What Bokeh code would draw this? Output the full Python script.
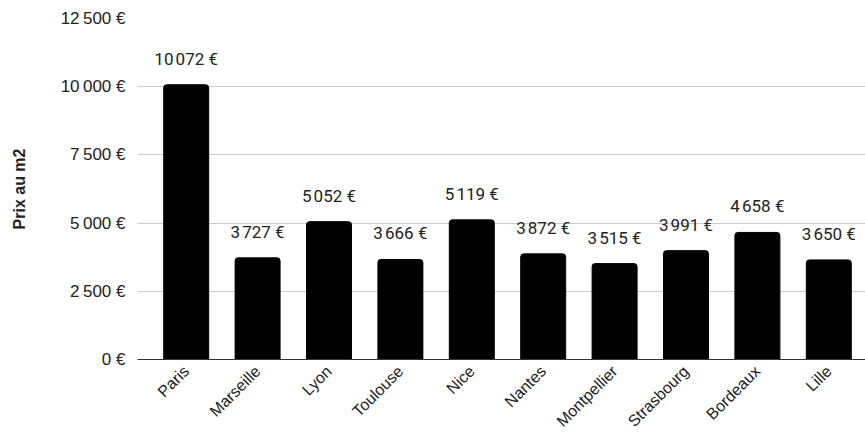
import math
from bokeh.plotting import figure
from bokeh.models import ColumnDataSource, Range1d, FixedTicker, LabelSet
from bokeh.core.properties import value
from bokeh.embed import file_html
from bokeh.resources import INLINE

cities = ["Paris", "Marseille", "Lyon", "Toulouse", "Nice", "Nantes",
          "Montpellier", "Strasbourg", "Bordeaux", "Lille"]
prices = [10072, 3727, 5052, 3666, 5119, 3872, 3515, 3991, 4658, 3650]
y_ticks = [0, 2500, 5000, 7500, 10000, 12500]
y_tick_labels = ["0\u00a0€", "2\u202f500\u00a0€", "5\u202f000\u00a0€",
                 "7\u202f500\u00a0€", "10\u202f000\u00a0€", "12\u202f500\u00a0€"]

def fmt(v):
    s = f"{v:,}".replace(",", "\u202f")
    return s + "\u00a0€"

xpos = list(range(len(cities)))
src = ColumnDataSource(dict(x=xpos, city=cities, price=prices,
                            label=[fmt(v) for v in prices]))

p = figure(x_range=Range1d(-0.682, len(cities) - 0.486),
           y_range=Range1d(0, 12500), width=865, height=443,
           output_backend="svg", toolbar_location=None,
           min_border_left=137, min_border_right=0, min_border_top=18,
           min_border_bottom=84)
p.outline_line_color = None
p.background_fill_color = "white"

p.vbar(x="x", top="price", width=0.63, source=src, color="black",
       border_radius=dict(top_left=3, top_right=3, bottom_right=0, bottom_left=0))

labels = LabelSet(x="x", y="price", text="label", source=src,
                  text_align="center", text_baseline="alphabetic", y_offset=20,
                  text_font=value("Roboto"), text_font_size=value("17px"),
                  text_color="#222222")
p.add_layout(labels)

p.yaxis.ticker = FixedTicker(ticks=y_ticks)
p.yaxis.major_label_overrides = dict(zip(y_ticks, y_tick_labels))
p.yaxis.axis_line_color = None
p.yaxis.major_tick_line_color = None
p.yaxis.minor_tick_line_color = None
p.yaxis.major_label_standoff = 6
p.yaxis.major_label_text_font = "Liberation Sans"
p.yaxis.major_label_text_font_size = "17px"
p.yaxis.major_label_text_color = "#222222"
p.yaxis.axis_label = "Prix au m2"
p.yaxis.axis_label_text_font = "Liberation Sans"
p.yaxis.axis_label_text_font_size = "16px"
p.yaxis.axis_label_text_font_style = "bold"
p.yaxis.axis_label_text_color = "#222222"
p.yaxis.axis_label_standoff = 30

p.xaxis.ticker = FixedTicker(ticks=xpos)
p.xaxis.major_label_overrides = dict(zip(xpos, cities))
p.xaxis.axis_line_color = "#333333"
p.xaxis.major_tick_line_color = None
p.xaxis.minor_tick_line_color = None
p.xaxis.major_label_orientation = math.pi / 4
p.xaxis.major_label_text_font = "Liberation Sans"
p.xaxis.major_label_text_font_size = "16px"
p.xaxis.major_label_text_color = "#222222"
p.xaxis.major_label_standoff = 3

p.xgrid.grid_line_color = None
p.ygrid.grid_line_color = "#cccccc"

open("out.html", "w").write(file_html(p, INLINE))
